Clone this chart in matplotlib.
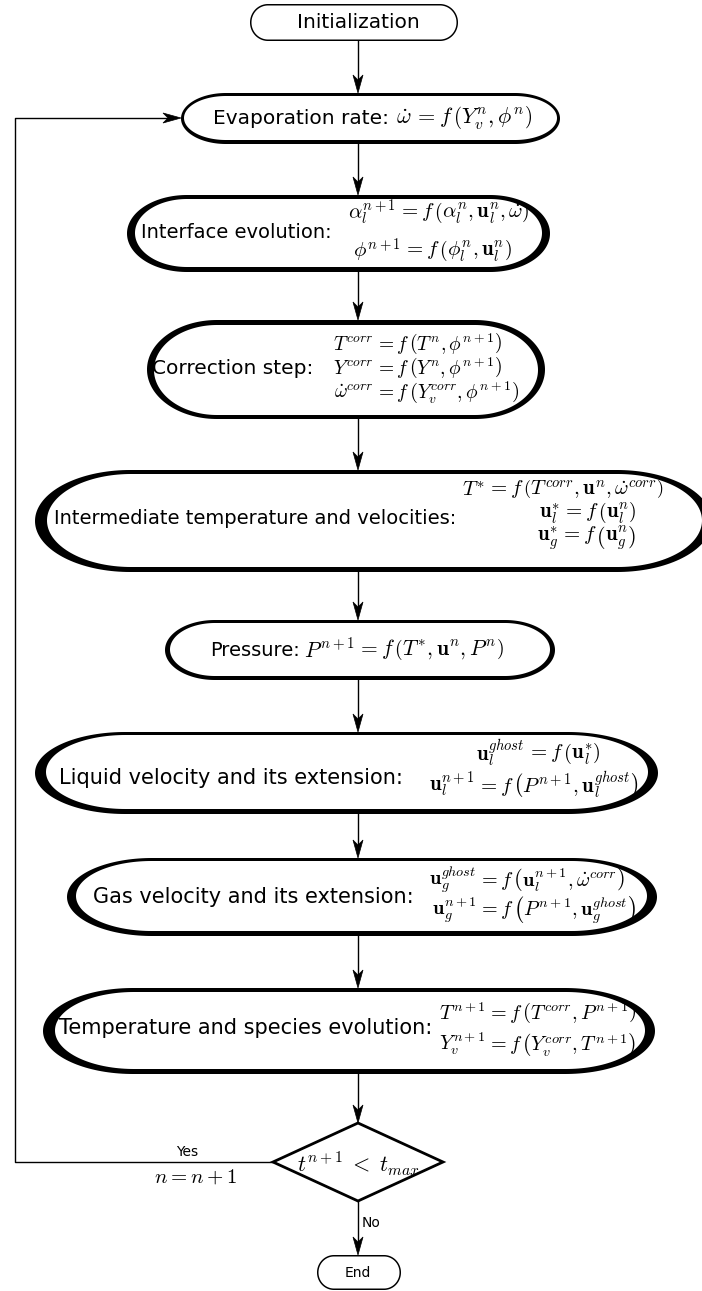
import numpy as np
import matplotlib
matplotlib.use('Agg')
import matplotlib.pyplot as plt
from matplotlib.patches import Polygon

plt.rcParams['mathtext.fontset'] = 'cm'
plt.rcParams['font.family'] = 'DejaVu Sans'

W, H = 702, 1291
fig = plt.figure(figsize=(W / 100, H / 100), dpi=100)
ax = fig.add_axes([0, 0, 1, 1])
ax.set_xlim(0, W)
ax.set_ylim(H, 0)
ax.axis('off')

# --- content of the flowchart ---
labels = ['Evaporation rate:', 'Interface evolution:', 'Correction step:',
          'Intermediate temperature and velocities:', 'Pressure:',
          'Liquid velocity and its extension:', 'Gas velocity and its extension:',
          'Temperature and species evolution:']

formulas = [
    [(r'$\dot{\omega}$', r'$= f\,\left(Y_v^n, \phi^n\right)$')],
    [(r'$\alpha_l^{n+1}$', r'$= f\,\left(\alpha_l^n, \mathbf{u}_l^n, \dot{\omega}\right)$'),
     (r'$\phi^{n+1}$', r'$= f\,\left(\phi_l^n, \mathbf{u}_l^n\right)$')],
    [(r'$T^{corr}$', r'$= f\,\left(T^n, \phi^{n+1}\right)$'),
     (r'$Y^{corr}$', r'$= f\,\left(Y^n, \phi^{n+1}\right)$'),
     (r'$\dot{\omega}^{corr}$', r'$= f\,\left(Y_v^{corr}, \phi^{n+1}\right)$')],
    [(r'$T^{*}$', r'$= f\,\left(T^{corr}, \mathbf{u}^n, \dot{\omega}^{corr}\right)$'),
     (r'$\mathbf{u}_l^{*}$', r'$= f\,\left(\mathbf{u}_l^n\right)$'),
     (r'$\mathbf{u}_g^{*}$', r'$= f\,\left(\mathbf{u}_g^n\right)$')],
    [(r'$P^{n+1}$', r'$= f\,\left(T^{*}, \mathbf{u}^n, P^n\right)$')],
    [(r'$\mathbf{u}_l^{ghost}$', r'$= f\,\left(\mathbf{u}_l^{*}\right)$'),
     (r'$\mathbf{u}_l^{n+1}$', r'$= f\,\left(P^{n+1}, \mathbf{u}_l^{ghost}\right)$')],
    [(r'$\mathbf{u}_g^{ghost}$', r'$= f\,\left(\mathbf{u}_l^{n+1}, \dot{\omega}^{corr}\right)$'),
     (r'$\mathbf{u}_g^{n+1}$', r'$= f\,\left(P^{n+1}, \mathbf{u}_g^{ghost}\right)$')],
    [(r'$T^{n+1}$', r'$= f\,\left(T^{corr}, P^{n+1}\right)$'),
     (r'$Y_v^{n+1}$', r'$= f\,\left(Y_v^{corr}, T^{n+1}\right)$')],
]

# --- layout (pixel coordinates, y downwards) ---
# x0, x1, y0, y1, end radius ; border thickness: left, top, right, bottom
boxes = [
    (181, 560, 93, 144, 45, 3, 3, 3, 4),
    (127, 550, 195, 272, 60, 8, 4, 8, 5),
    (147, 545, 320, 419, 70, 7, 5, 7, 4),
    (35, 712, 470, 572, 95, 12, 4, 10, 5),
    (165, 555, 620, 680, 50, 5, 3, 5, 4),
    (35, 658, 732, 814, 90, 11, 3, 10, 5),
    (67, 657, 858, 936, 85, 9, 3, 10, 5),
    (43, 655, 988, 1074, 90, 12, 4, 10, 5),
]
label_pos = [(213, 118), (141, 232), (152, 368), (54, 518), (210, 650),
             (59, 778), (93, 897), (59, 1028)]
label_size = [14.5, 14, 14.5, 14, 14, 15, 15, 15]
eq_x = [[414], [398, 403], [375, 375, 375], [487, 562, 560], [357],
        [527, 477], [478, 478], [487, 487]]
eq_y = [[118], [213, 251], [344, 368, 393], [490, 514, 538], [650],
        [753, 785], [880, 910], [1013, 1044]]
eq_size = [16, 15, 14, 15, 15.5, 15, 14.5, 14.5]

CX = 358


def stadium_pts(x0, x1, y0, y1, rx, n=80):
    cy, ry = (y0 + y1) / 2, (y1 - y0) / 2
    t = np.linspace(-np.pi / 2, np.pi / 2, n)
    right = np.c_[x1 - rx + rx * np.cos(t), cy + ry * np.sin(t)]
    t = np.linspace(np.pi / 2, 3 * np.pi / 2, n)
    left = np.c_[x0 + rx + rx * np.cos(t), cy + ry * np.sin(t)]
    return np.vstack([right, left])


def stadium(x0, x1, y0, y1, rx, bl, bt, br, bb):
    ax.add_patch(Polygon(stadium_pts(x0, x1, y0, y1, rx), closed=True,
                         facecolor='black', edgecolor='none', zorder=2))
    ax.add_patch(Polygon(stadium_pts(x0 + bl, x1 - br, y0 + bt, y1 - bb,
                                     rx - (bl + br) / 2), closed=True,
                         facecolor='white', edgecolor='none', zorder=3))


def head(x, y, dx, dy, L=18, w=5, notch=5):
    # stealth style arrow head, tip at (x, y), pointing along (dx, dy)
    px, py = -dy, dx
    pts = [(x, y),
           (x - dx * L + px * w, y - dy * L + py * w),
           (x - dx * (L - notch), y - dy * (L - notch)),
           (x - dx * L - px * w, y - dy * L - py * w)]
    ax.add_patch(Polygon(pts, closed=True, facecolor='black', edgecolor='black',
                         lw=0.5, zorder=6))


def varrow(y0, y1):
    ax.plot([CX, CX], [y0, y1 - 10], color='black', lw=1.0, zorder=1)
    head(CX, y1, 0, 1)


# start box
stadium(250, 458, 4, 41, 18, 1.5, 1.5, 1.5, 1.5)
ax.text(CX, 22, 'Initialization', ha='center', va='center', fontsize=14.5, zorder=5)

for i, lab in enumerate(labels):
    stadium(*boxes[i])
    lx, ly = label_pos[i]
    ax.text(lx, ly, lab, ha='left', va='center', fontsize=label_size[i], zorder=5)
    for (lhs, rhs), ex, ey in zip(formulas[i], eq_x[i], eq_y[i]):
        ax.text(ex - 2, ey, lhs, ha='right', va='center', fontsize=eq_size[i], zorder=5)
        ax.text(ex, ey, rhs, ha='left', va='center', fontsize=eq_size[i], zorder=5)

# vertical arrows between boxes
dcy, dhw, dhh = 1162, 85, 39
tops = [b[2] for b in boxes] + [dcy - dhh]
bottoms = [41] + [b[3] for b in boxes]
for y0, y1 in zip(bottoms, tops):
    varrow(y0, y1)

# decision diamond
diamond = Polygon([(CX, dcy - dhh), (CX + dhw, dcy), (CX, dcy + dhh), (CX - dhw, dcy)],
                  closed=True, facecolor='white', edgecolor='black', lw=2, zorder=3)
ax.add_patch(diamond)
ax.text(CX, dcy + 2, r'$t^{n+1}\;<\;t_{max}$', ha='center', va='center', fontsize=16, zorder=5)

# loop back to the evaporation step
ax.plot([CX - dhw, 15, 15, 172], [dcy, dcy, 118, 118], color='black', lw=1.0, zorder=1)
head(181, 118, 1, 0)
ax.text(187, 1152, 'Yes', ha='center', va='center', fontsize=10)
ax.text(195, 1177, r'$n = n + 1$', ha='center', va='center', fontsize=15)

# exit
varrow(dcy + dhh, 1255)
ax.text(CX + 4, 1223, 'No', ha='left', va='center', fontsize=10)
stadium(317, 401, 1255, 1290, 17, 1.5, 1.5, 1.5, 1.5)
ax.text(CX, 1273, 'End', ha='center', va='center', fontsize=10, zorder=5)

fig.savefig('out.png', dpi=100, facecolor='white')
